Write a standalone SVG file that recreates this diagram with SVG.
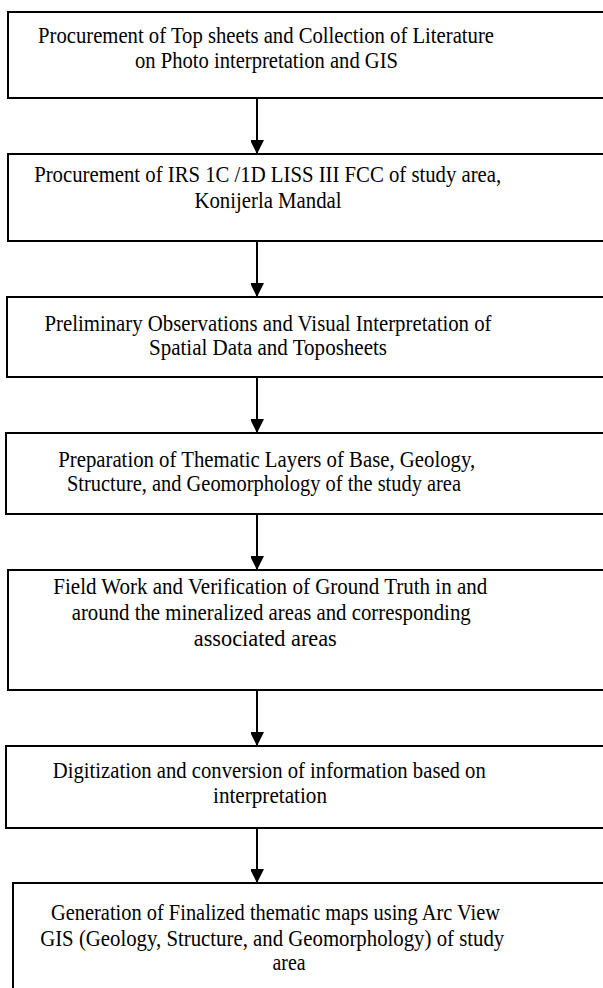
<svg xmlns="http://www.w3.org/2000/svg" width="603" height="988" viewBox="0 0 603 988">
<style>
.box{fill:#fff;stroke:#000;stroke-width:2}
.t{font-family:"Liberation Serif","Times New Roman",serif;font-size:24px;fill:#000;text-anchor:middle}
.c{stroke:#000;stroke-width:2;fill:none}
</style>
<defs>
<marker id="ah" markerUnits="userSpaceOnUse" markerWidth="14" markerHeight="13" refX="14" refY="7" orient="auto">
<path d="M0,0 L14,7 L0,14 Z" fill="#000"/>
</marker>
</defs>
<rect width="603" height="988" fill="#fff"/>
<g id="connectors">
<line class="c" x1="257" y1="98" x2="257" y2="154" marker-end="url(#ah)"/>
<line class="c" x1="257" y1="241" x2="257" y2="297" marker-end="url(#ah)"/>
<line class="c" x1="257" y1="377" x2="257" y2="433" marker-end="url(#ah)"/>
<line class="c" x1="257" y1="514" x2="257" y2="570" marker-end="url(#ah)"/>
<line class="c" x1="257" y1="690" x2="257" y2="746" marker-end="url(#ah)"/>
<line class="c" x1="257" y1="828" x2="257" y2="883" marker-end="url(#ah)"/>
</g>
<g id="n1">
<rect class="box" x="8" y="12" width="610" height="86"/>
<text class="t" x="266" y="42.7" textLength="456" lengthAdjust="spacingAndGlyphs">Procurement of Top sheets and Collection of Literature</text>
<text class="t" x="266.5" y="68" textLength="263" lengthAdjust="spacingAndGlyphs">on Photo interpretation and GIS</text>
</g>
<g id="n2">
<rect class="box" x="8" y="154" width="610" height="87"/>
<text class="t" x="267.7" y="182" textLength="467" lengthAdjust="spacingAndGlyphs">Procurement of IRS 1C /1D LISS III FCC of study area,</text>
<text class="t" x="268" y="207.5" textLength="147" lengthAdjust="spacingAndGlyphs">Konijerla Mandal</text>
</g>
<g id="n3">
<rect class="box" x="7" y="297" width="610" height="80"/>
<text class="t" x="268" y="331" textLength="447" lengthAdjust="spacingAndGlyphs">Preliminary Observations and Visual Interpretation of</text>
<text class="t" x="268" y="355" textLength="238" lengthAdjust="spacingAndGlyphs">Spatial Data and Toposheets</text>
</g>
<g id="n4">
<rect class="box" x="6" y="433" width="610" height="81"/>
<text class="t" x="266.7" y="467" textLength="417" lengthAdjust="spacingAndGlyphs">Preparation of Thematic Layers of Base, Geology,</text>
<text class="t" x="264" y="491" textLength="394" lengthAdjust="spacingAndGlyphs">Structure, and Geomorphology of the study area</text>
</g>
<g id="n5">
<rect class="box" x="8" y="570" width="610" height="120"/>
<text class="t" x="270.3" y="594" textLength="434" lengthAdjust="spacingAndGlyphs">Field Work and Verification of Ground Truth in and</text>
<text class="t" x="271.2" y="620" textLength="399" lengthAdjust="spacingAndGlyphs">around the mineralized areas and corresponding</text>
<text class="t" x="265.3" y="646" textLength="143" lengthAdjust="spacingAndGlyphs">associated areas</text>
</g>
<g id="n6">
<rect class="box" x="6" y="746" width="610" height="82"/>
<text class="t" x="269.3" y="778" textLength="433" lengthAdjust="spacingAndGlyphs">Digitization and conversion of information based on</text>
<text class="t" x="270" y="802.5" textLength="114" lengthAdjust="spacingAndGlyphs">interpretation</text>
</g>
<g id="n7">
<rect class="box" x="13" y="883" width="610" height="120"/>
<text class="t" x="275.5" y="920" textLength="449" lengthAdjust="spacingAndGlyphs">Generation of Finalized thematic maps using Arc View</text>
<text class="t" x="272.2" y="946" textLength="464" lengthAdjust="spacingAndGlyphs">GIS (Geology, Structure, and Geomorphology) of study</text>
<text class="t" x="289" y="970" textLength="33" lengthAdjust="spacingAndGlyphs">area</text>
</g>
</svg>
